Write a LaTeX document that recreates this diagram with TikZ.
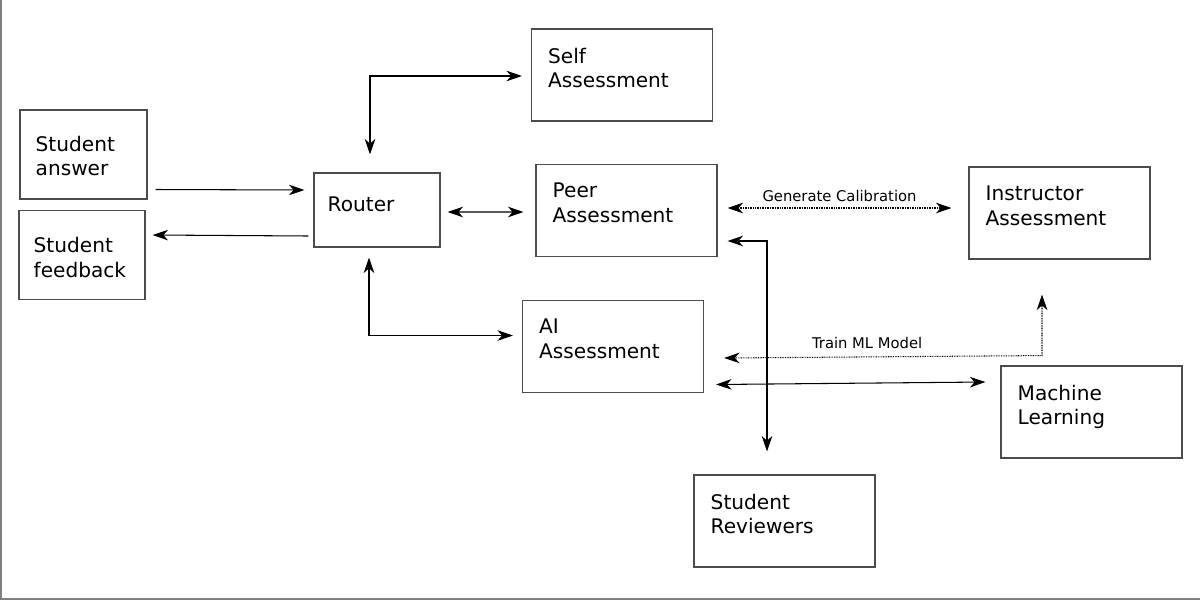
\documentclass[tikz,border=0pt]{standalone}
\usepackage{fontspec}
\setmainfont{DejaVu Sans}
\usetikzlibrary{positioning,arrows.meta,calc}
\newcommand\pxu{0.025cm}

\begin{document}
\begin{tikzpicture}[x=\pxu,y=-\pxu,
      >={Stealth[length=11pt,width=7.5pt,inset=3.3pt]},
      box/.style={rectangle,draw=black!70,line width=0.8pt,minimum width=181*\pxu,minimum height=92*\pxu,inner sep=0pt},
      tag/.style={font=\fontsize{14.3}{17.7}\selectfont,align=left,inner sep=0pt,anchor=north west},
      lbl/.style={font=\fontsize{10.5}{12}\selectfont,inner sep=0pt},
      link/.style={line width=0.75pt},
      calib/.style={link,dash pattern=on 0.6pt off 0.6pt},
      frame/.style={draw=black!50,line width=1.4pt}]
    \useasboundingbox (0,0) rectangle (1200,600);
    \draw[frame] (1,0) -- (1,599) -- (1200,599);
    % student side
    \node[box,minimum width=127*\pxu,minimum height=89*\pxu,
      label={[tag,xshift=16*\pxu,yshift=-26*\pxu]north west:{Student\\answer}}] (ans) at (83.5,154.5) {};
    \node[box,minimum width=126*\pxu,minimum height=89*\pxu,
      label={[tag,xshift=15*\pxu,yshift=-27*\pxu]north west:{Student\\feedback}}] (fb) at (82,255) {};
    \node[box,minimum width=126*\pxu,minimum height=74*\pxu,
      label={[tag,xshift=14*\pxu,yshift=-24*\pxu]north west:{Router}}] (router) at (377,210) {};
    % assessment boxes
    \node[box,label={[tag,xshift=17*\pxu,yshift=-19*\pxu]north west:{Self\\Assessment}}] (self) at (622,75) {};
    \node[box,label={[tag,xshift=17*\pxu,yshift=-19*\pxu]north west:{Peer\\Assessment}}] (peer) at (626.5,210.5) {};
    \node[box,label={[tag,xshift=17*\pxu,yshift=-19*\pxu]north west:{Instructor\\Assessment}}] (instr) at (1059.5,213) {};
    \node[box,label={[tag,xshift=17*\pxu,yshift=-19*\pxu]north west:{AI\\Assessment}}] (ai) at (613,346.5) {};
    \node[box,label={[tag,xshift=17*\pxu,yshift=-19*\pxu]north west:{Machine\\Learning}}] (ml) at (1091.5,412) {};
    \node[box,label={[tag,xshift=17*\pxu,yshift=-19*\pxu]north west:{Student\\Reviewers}}] (rev) at (784.5,521) {};
    % router links
    \draw[link,->] ($(ans.east)+(8,35)$) -- ($(router.west)+(-9,-20)$);
    \draw[link,->] ($(router.west)+(-5,26)$) -- ($(fb.east)+(7,-20)$);
    \draw[link,<->] ($(router.north)+(-7,-18)$) |- ($(self.west)+(-9,1)$);
    \draw[link,<->] ($(router.east)+(7,2)$) -- ($(peer.west)+(-12,1.5)$);
    \draw[link,<->] ($(router.south)+(-8,10)$) |- ($(ai.west)+(-9,-11)$);
    % calibration and training
    \draw[calib,<->] ($(peer.east)+(10,-2.5)$) --
      node[lbl,above=4.2pt] {Generate Calibration} ($(instr.west)+(-17,-5)$);
    \draw[link,<->] ($(peer.east)+(10,30.5)$) -| ($(rev.north)+(-17.5,-23)$);
    \draw[link,<->] ($(ai.east)+(12,38)$) -- ($(ml.west)+(-15,-30)$);
    \draw[calib,<->] ($(ai.east)+(20,11.5)$) --
      node[lbl,pos=0.45,above=5.5pt] {Train ML Model} ($(instr.south)+(-17.5,96)$) --
      ($(instr.south)+(-17.5,35)$);
  \end{tikzpicture}
\end{document}
